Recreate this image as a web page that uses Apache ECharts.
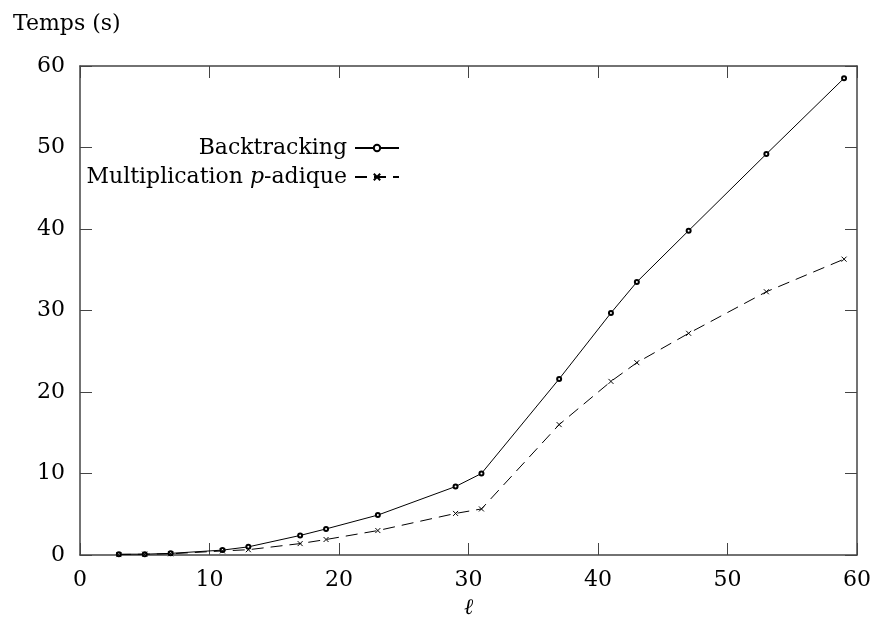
<!DOCTYPE html>
<html>
<head>
<meta charset="utf-8">
<script src="https://cdn.jsdelivr.net/npm/echarts@6/dist/echarts.min.js"></script>
<style>
  html, body { margin: 0; padding: 0; background: #fff; }
  #chart { width: 873px; height: 619px; }
</style>
</head>
<body>
<div id="chart"></div>
<script>
// Size of the problem (ℓ)
const ell = [3, 5, 7, 11, 13, 17, 19, 23, 29, 31, 37, 41, 43, 47, 53, 59];
// Running time in seconds
const backtracking = [0.1, 0.1, 0.2, 0.6, 1.0, 2.4, 3.2, 4.9, 8.4, 10.0, 21.6, 29.7, 33.5, 39.8, 49.2, 58.5];
const multiplication = [0.05, 0.1, 0.15, 0.5, 0.65, 1.4, 1.9, 3.0, 5.1, 5.65, 16.0, 21.3, 23.6, 27.2, 32.3, 36.3];
const xTicks = [0, 10, 20, 30, 40, 50, 60];
const yTicks = [0, 10, 20, 30, 40, 50, 60];

const FONT = 'DejaVu Serif';
const FS = 22;
const AXIS_COLOR = '#444';
const crossPath = 'path://M0,0L10,10M10,0L0,10';

const chart = echarts.init(document.getElementById('chart'));

const pairs = (ys) => ell.map((x, i) => [x, ys[i]]);

const baseAxis = {
  type: 'value',
  min: xTicks[0],
  max: xTicks[xTicks.length - 1],
  interval: xTicks[1] - xTicks[0],
  splitLine: { show: false },
  axisLine: { show: true, onZero: false, lineStyle: { color: AXIS_COLOR, width: 1.5 } },
  axisTick: { show: true, inside: true, length: 12, lineStyle: { color: AXIS_COLOR, width: 1 } }
};

chart.setOption({
  animation: false,
  backgroundColor: '#fff',
  title: {
    text: 'Temps (s)',
    left: 8,
    top: 8,
    textStyle: { fontFamily: FONT, fontSize: FS, fontWeight: 'normal', color: '#000' }
  },
  grid: { left: 80, right: 16, top: 66, bottom: 64, containLabel: false, outerBoundsMode: 'none' },
  legend: [
    {
      data: ['Backtracking'],
      right: 473,
      top: 137,
      padding: 0,
      align: 'right',
      itemWidth: 44,
      itemHeight: 8,
      textStyle: { fontFamily: FONT, fontSize: FS, color: '#000', padding: [0, 3, 0, 0] }
    },
    {
      data: ['Multiplication p-adique'],
      right: 473,
      top: 166,
      padding: 0,
      align: 'right',
      itemWidth: 44,
      itemHeight: 8,
      formatter: () => '{n|Multiplication }{i|p}{n|-adique}',
      textStyle: {
        fontFamily: FONT, fontSize: FS, color: '#000', padding: [0, 3, 0, 0],
        rich: {
          n: { fontFamily: FONT, fontSize: FS, color: '#000' },
          i: { fontFamily: FONT, fontSize: FS, color: '#000', fontStyle: 'italic' }
        }
      }
    }
  ],
  xAxis: [
    Object.assign({}, baseAxis, {
      position: 'bottom',
      name: 'ℓ',
      nameLocation: 'middle',
      nameGap: 42,
      nameTextStyle: { fontFamily: FONT, fontSize: FS, fontStyle: 'italic', color: '#000' },
      axisLabel: { fontFamily: FONT, fontSize: FS, color: '#000', margin: 14 }
    }),
    Object.assign({}, baseAxis, {
      position: 'top',
      axisLabel: { show: false }
    })
  ],
  yAxis: [
    Object.assign({}, baseAxis, {
      min: yTicks[0],
      max: yTicks[yTicks.length - 1],
      interval: yTicks[1] - yTicks[0],
      position: 'left',
      axisLabel: { fontFamily: FONT, fontSize: FS, color: '#000', margin: 15 }
    }),
    Object.assign({}, baseAxis, {
      min: yTicks[0],
      max: yTicks[yTicks.length - 1],
      interval: yTicks[1] - yTicks[0],
      position: 'right',
      axisLabel: { show: false }
    })
  ],
  series: [
    {
      name: 'Backtracking',
      type: 'line',
      data: pairs(backtracking),
      symbol: 'emptyCircle',
      symbolSize: 4,
      showAllSymbol: true,
      lineStyle: { color: '#000', width: 1 },
      itemStyle: { color: '#000', borderColor: '#000', borderWidth: 1 }
    },
    {
      name: 'Multiplication p-adique',
      type: 'line',
      data: pairs(multiplication),
      symbol: crossPath,
      symbolSize: 5,
      showAllSymbol: true,
      lineStyle: { color: '#000', width: 1, type: [12, 7] },
      itemStyle: { color: '#000', borderColor: '#000', borderWidth: 1 }
    }
  ]
});
</script>
</body>
</html>
